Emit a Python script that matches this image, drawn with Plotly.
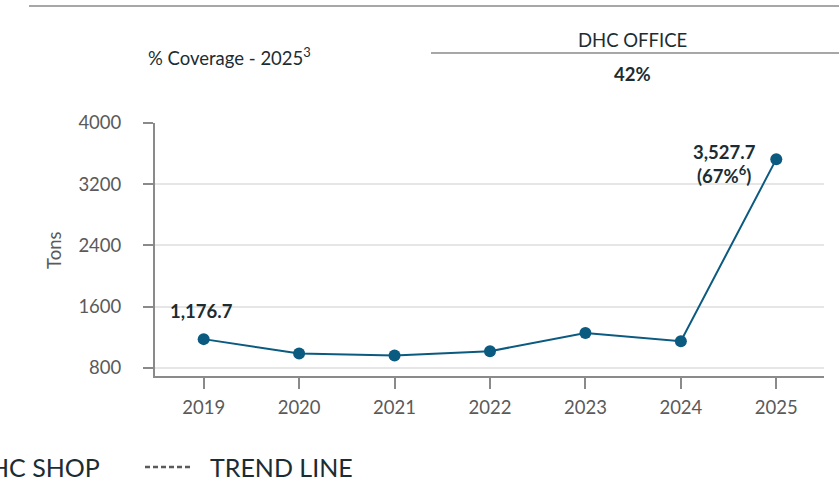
import plotly.graph_objects as go

years = ["2019", "2020", "2021", "2022", "2023", "2024", "2025"]
tons = [1176.7, 988, 962, 1019, 1258, 1150, 3527.7]
y_ticks = [800, 1600, 2400, 3200, 4000]

LINE = "#0b5a80"
DARK = "#1b2d33"
GRAY = "#5a5a5a"
AX = "#8a8a8a"
FONT = "Lato"
FS = 18.5

W, H = 839, 482
L, R, T, B = 155, 15, 123, 106
pw, ph = W - L - R, H - T - B

def px(x):
    return (x - L) / pw

def py(y):
    return (H - B - y) / ph

fig = go.Figure()
fig.add_trace(go.Scatter(
    x=years, y=tons, mode="lines+markers",
    line=dict(color=LINE, width=2),
    marker=dict(color=LINE, size=12),
    showlegend=False, hoverinfo="skip",
))

fig.update_layout(
    width=W, height=H,
    margin=dict(l=L, r=R, t=T, b=B, pad=0),
    paper_bgcolor="white", plot_bgcolor="white",
    font=dict(family=FONT, color=GRAY, size=FS),
    xaxis=dict(
        type="category", range=[-0.51, 6.5],
        showgrid=False, showline=True, linecolor=AX, linewidth=2,
        ticks="outside", ticklen=11, tickcolor=AX, tickwidth=2,
        tickfont=dict(size=FS, color=GRAY), ticklabelstandoff=3,
        zeroline=False,
    ),
    yaxis=dict(
        range=[695, 4000], tickvals=y_ticks, ticktext=[str(v) for v in y_ticks],
        showgrid=True, gridcolor="#e6e6e6", gridwidth=2,
        showline=True, linecolor=AX, linewidth=2,
        ticks="outside", ticklen=10, tickcolor=AX, tickwidth=2,
        tickfont=dict(size=FS, color=GRAY), ticklabelstandoff=18,
        zeroline=False,
    ),
)

shapes = [
    dict(type="line", xref="paper", yref="paper", x0=px(29), x1=px(839), y0=py(6), y1=py(6),
         line=dict(color="#8a8a8a", width=1.5)),
    dict(type="line", xref="paper", yref="paper", x0=px(431), x1=px(839), y0=py(53), y1=py(53),
         line=dict(color="#8a8a8a", width=1.5)),
    dict(type="line", xref="paper", yref="paper", x0=px(145), x1=px(190), y0=py(467), y1=py(467),
         line=dict(color=GRAY, width=2.5, dash="5px,3px")),
]
fig.update_layout(shapes=shapes)

ann = [
    dict(text="% Coverage - 2025<sup>3</sup>", x=px(146), y=py(57), xanchor="left", yanchor="middle",
         font=dict(size=FS, color=DARK)),
    dict(text="DHC OFFICE", x=px(632), y=py(40), xanchor="center", yanchor="middle",
         font=dict(size=FS, color=DARK)),
    dict(text="<b>42%</b>", x=px(632), y=py(74), xanchor="center", yanchor="middle",
         font=dict(size=FS, color=DARK)),
    dict(text="Tons", x=px(54), y=py(250), xanchor="center", yanchor="middle", textangle=-90,
         font=dict(size=FS, color=GRAY)),
    dict(text="DHC SHOP", x=px(102), y=py(467), xanchor="right", yanchor="middle",
         font=dict(size=25, color=DARK)),
    dict(text="TREND LINE", x=px(208), y=py(467), xanchor="left", yanchor="middle",
         font=dict(size=25, color=DARK)),
]
for a in ann:
    a.update(xref="paper", yref="paper", showarrow=False)

ann += [
    dict(text="<b>1,176.7</b>", x=0, y=tons[0], xref="x", yref="y", showarrow=False,
         yshift=28, xshift=-2, font=dict(size=FS, color=DARK)),
    dict(text="<b>3,527.7</b><br><b>(67%<sup>6</sup>)</b>", x=len(years) - 1, y=tons[-1], xref="x", yref="y",
         showarrow=False, xshift=-52, yshift=-5, align="center", font=dict(size=FS, color=DARK)),
]
fig.update_layout(annotations=ann)

fig.write_html("out.html")
